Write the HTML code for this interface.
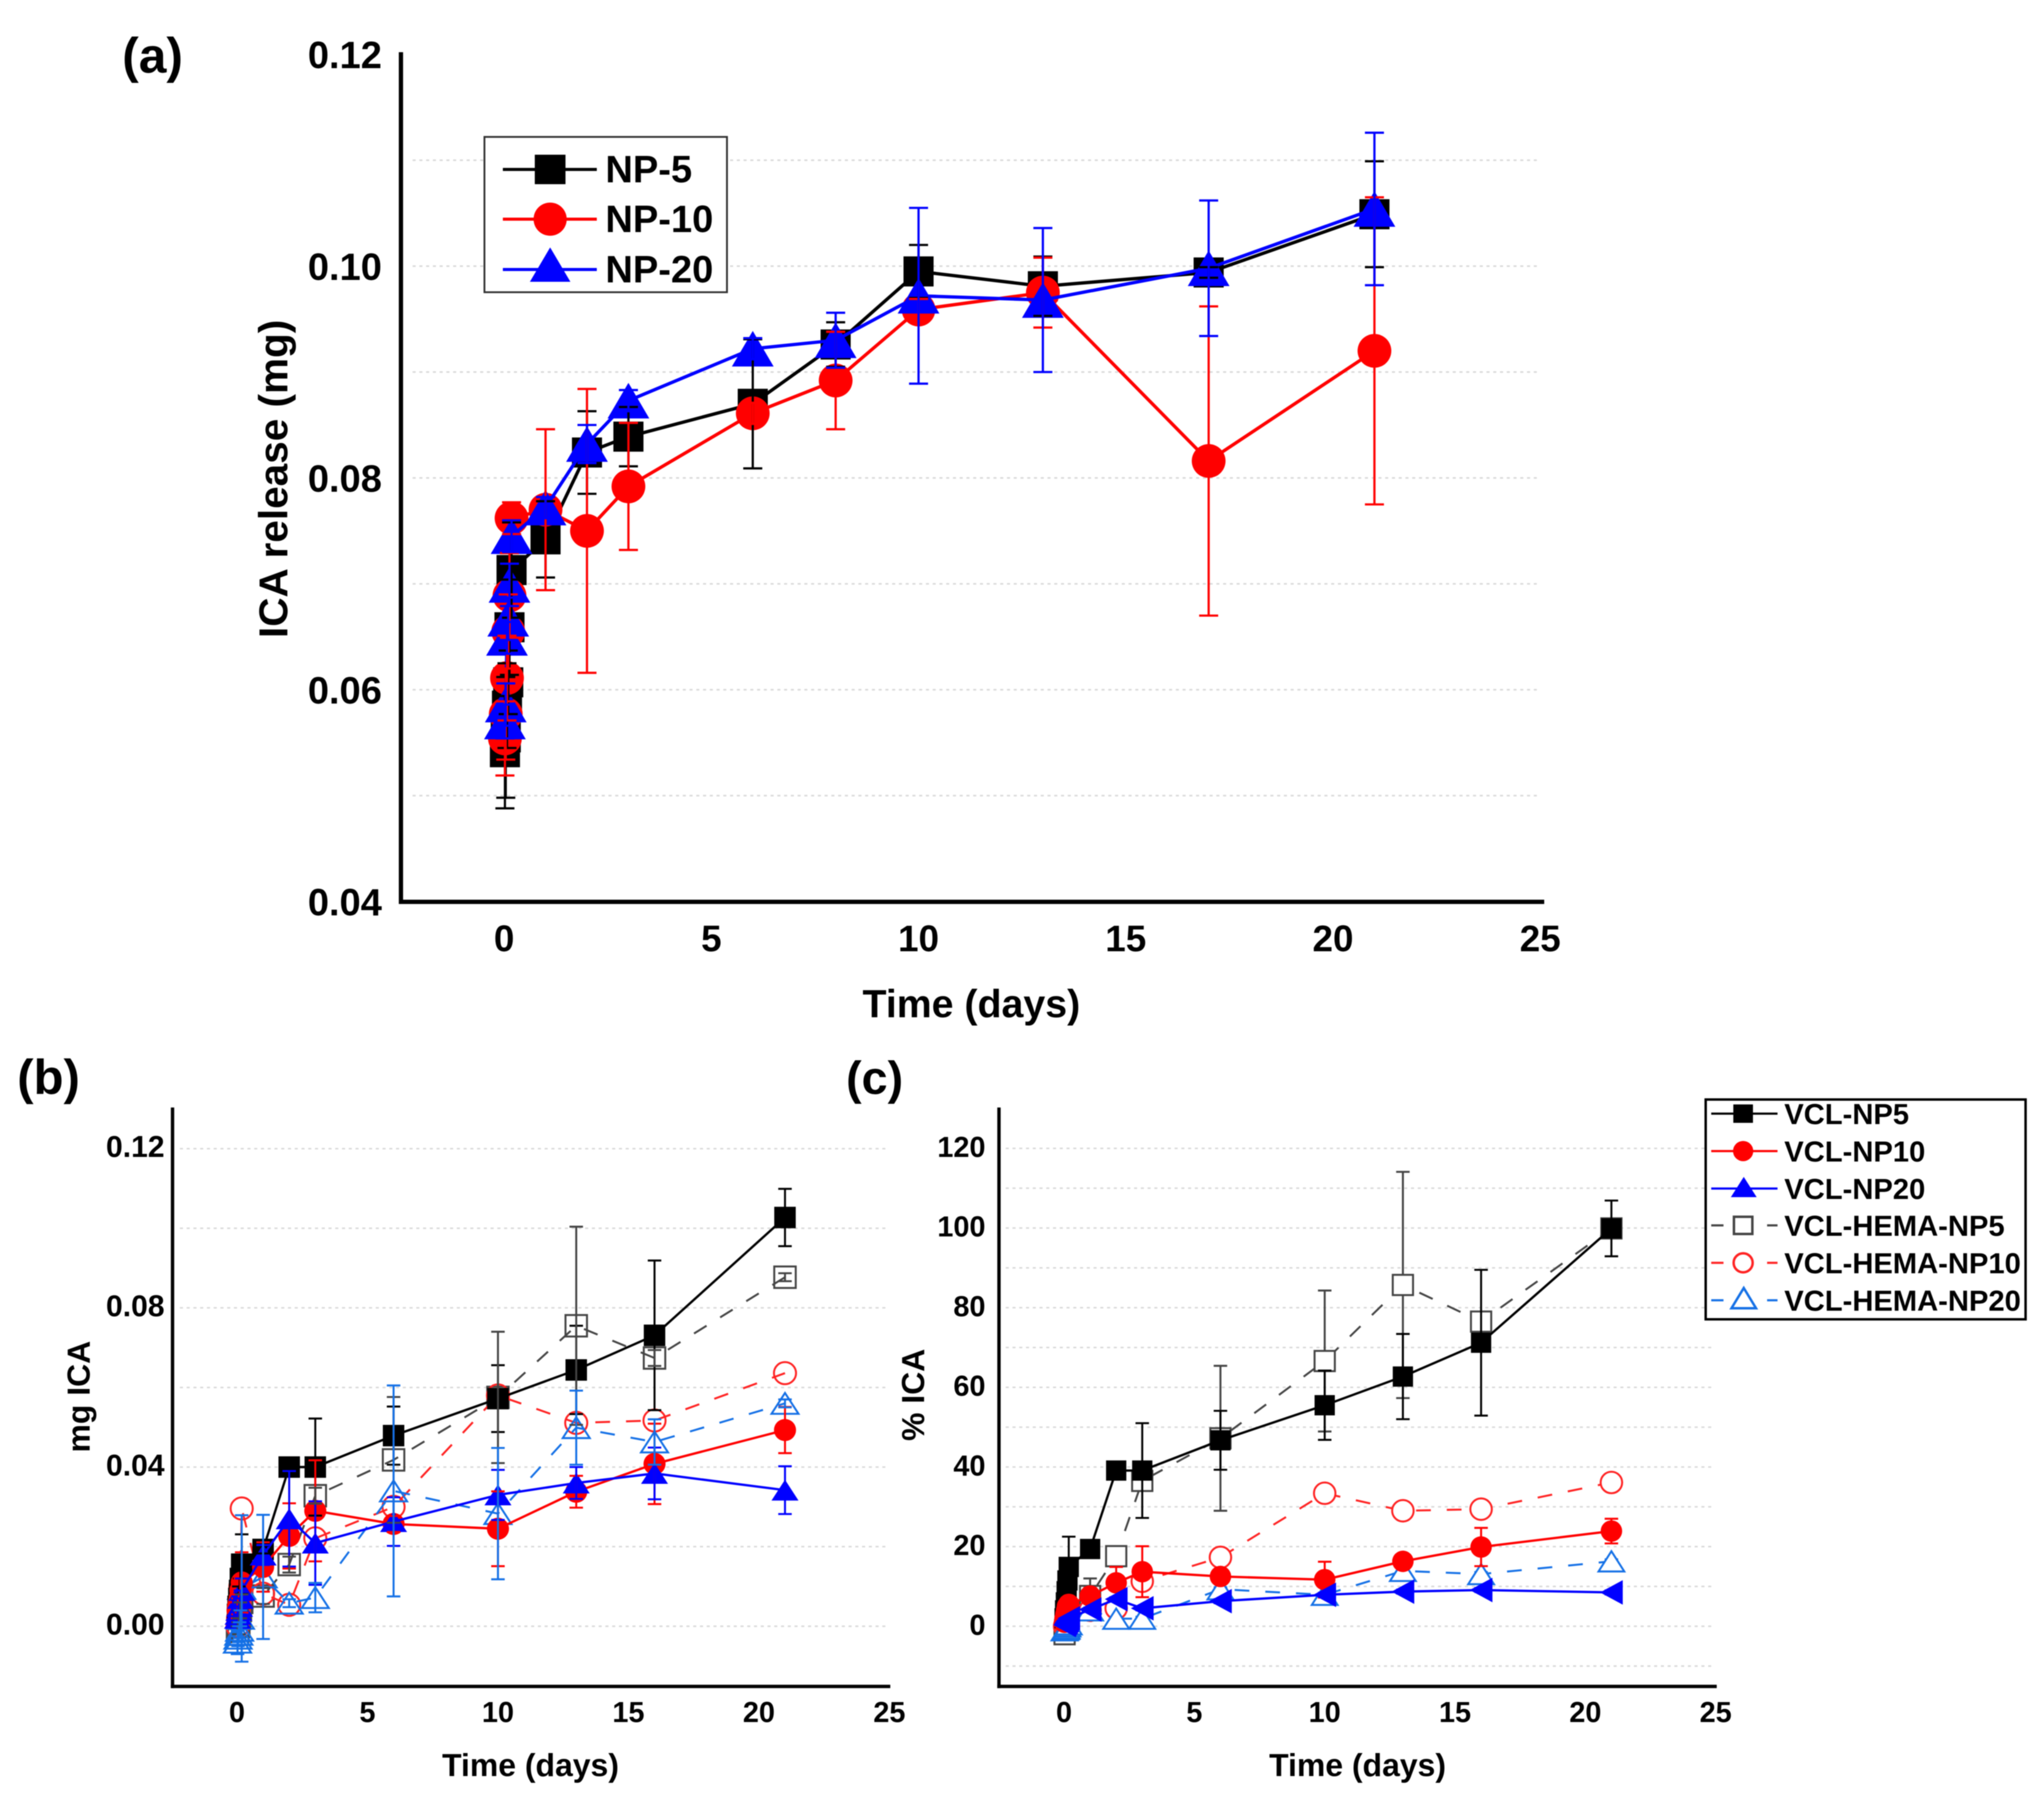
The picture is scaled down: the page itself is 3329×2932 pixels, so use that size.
<!DOCTYPE html>
<html lang="en">
<head>
<meta charset="utf-8">
<title>ICA release charts</title>
<style>
html,body{margin:0;padding:0;background:#fff}
svg{display:block;filter:blur(0.8px)}
text{font-family:"Liberation Sans",Arial,sans-serif;font-weight:bold;fill:#000}
</style>
</head>
<body>
<svg id="figure" xmlns="http://www.w3.org/2000/svg" width="3329" height="2932" viewBox="0 0 3329 2932">
<rect x="0" y="0" width="3329" height="2932" fill="#fff"/>
<g id="panel-a"></g>
<g id="panel-b"></g>
<g id="panel-c"></g>

<text x="199" y="118" font-size="81">(a)</text>
<text x="28" y="1782" font-size="80">(b)</text>
<text x="1378" y="1782" font-size="76">(c)</text>

<text x="1582" y="1657" font-size="64" text-anchor="middle">Time (days)</text>
<text transform="translate(468,780) rotate(-90)" font-size="66" text-anchor="middle">ICA release (mg)</text>
<text x="864" y="2893" font-size="52" text-anchor="middle">Time (days)</text>
<text transform="translate(146,2275) rotate(-90)" font-size="52" text-anchor="middle">mg ICA</text>
<text x="2211" y="2893" font-size="52" text-anchor="middle">Time (days)</text>
<text transform="translate(1505,2272) rotate(-90)" font-size="52" text-anchor="middle">% ICA</text>

<g id="legend-a">
  <rect x="789" y="223" width="395" height="253" fill="#fff" stroke="#333" stroke-width="3"/>
  <g>
    <line x1="819" y1="276" x2="972" y2="276" stroke="#000" stroke-width="5"/>
    <rect x="871" y="252" width="50" height="48" fill="#000"/>
    <text x="986" y="297" font-size="62">NP-5</text>
  </g>
  <g>
    <line x1="819" y1="357" x2="972" y2="357" stroke="#f00" stroke-width="5"/>
    <circle cx="896" cy="357" r="27" fill="#f00"/>
    <text x="986" y="378" font-size="62">NP-10</text>
  </g>
  <g>
    <line x1="819" y1="439" x2="972" y2="439" stroke="#00f" stroke-width="5"/>
    <polygon points="896,403 929,459 863,459" fill="#00f"/>
    <text x="986" y="460" font-size="62">NP-20</text>
  </g>
</g>

<g id="legend-bc">
  <rect x="2778" y="1791" width="521" height="358" fill="#fff" stroke="#000" stroke-width="4"/>
  <g>
    <line x1="2787" y1="1814" x2="2895" y2="1814" stroke="#000" stroke-width="3.5"/>
    <rect x="2823" y="1799" width="32" height="30" fill="#000"/>
    <text x="2906" y="1831" font-size="47.5">VCL-NP5</text>
  </g>
  <g>
    <line x1="2787" y1="1875" x2="2895" y2="1875" stroke="#f00" stroke-width="3.5"/>
    <circle cx="2839" cy="1875" r="16.5" fill="#f00"/>
    <text x="2906" y="1892" font-size="47.5">VCL-NP10</text>
  </g>
  <g>
    <line x1="2787" y1="1936" x2="2895" y2="1936" stroke="#00f" stroke-width="3.5"/>
    <polygon points="2840,1917 2861,1950 2819,1950" fill="#00f"/>
    <text x="2906" y="1953" font-size="47.5">VCL-NP20</text>
  </g>
  <g>
    <line x1="2787" y1="1996" x2="2807" y2="1996" stroke="#444" stroke-width="3.5"/>
    <line x1="2878" y1="1996" x2="2895" y2="1996" stroke="#444" stroke-width="3.5"/>
    <rect x="2824" y="1982" width="30" height="28" fill="#fff" stroke="#444" stroke-width="4"/>
    <text x="2906" y="2013" font-size="47.5">VCL-HEMA-NP5</text>
  </g>
  <g>
    <line x1="2787" y1="2057" x2="2807" y2="2057" stroke="#f22" stroke-width="3.5"/>
    <line x1="2878" y1="2057" x2="2895" y2="2057" stroke="#f22" stroke-width="3.5"/>
    <circle cx="2839" cy="2057" r="15.5" fill="#fff" stroke="#f22" stroke-width="4"/>
    <text x="2906" y="2074" font-size="47.5">VCL-HEMA-NP10</text>
  </g>
  <g>
    <line x1="2787" y1="2118" x2="2807" y2="2118" stroke="#1470e6" stroke-width="3.5"/>
    <line x1="2878" y1="2118" x2="2895" y2="2118" stroke="#1470e6" stroke-width="3.5"/>
    <polygon points="2840,2098 2860,2131 2820,2131" fill="#fff" stroke="#1470e6" stroke-width="4"/>
    <text x="2906" y="2135" font-size="47.5">VCL-HEMA-NP20</text>
  </g>
</g>
</svg>

<script>
/* ---------- shared tick data ---------- */
var xTickValues = [0, 5, 10, 15, 20, 25];

/* ---------- panel (a) data ---------- */
var aTimes = [0.02, 0.04, 0.07, 0.1, 0.13, 0.18, 1, 2, 3, 6, 8, 10, 13, 17, 21];
var aNP5 = [0.0541, 0.0555, 0.0585, 0.0607, 0.0659, 0.0713, 0.0742, 0.0824, 0.0839, 0.0870, 0.0926, 0.0995, 0.0981, 0.0994, 0.1049];
var aNP10 = [0.0554, 0.0577, 0.0611, 0.0655, 0.0689, 0.0762, 0.0770, 0.0750, 0.0792, 0.0861, 0.0892, 0.0959, 0.0975, 0.0816, 0.0920];
var aNP20 = [0.0570, 0.0586, 0.0649, 0.0667, 0.0699, 0.0745, 0.0772, 0.0832, 0.0873, 0.0922, 0.0930, 0.0972, 0.0968, 0.0998, 0.1054];
var aNP5Err = [0.0053, 0.0057, 0.0040, 0.0030, 0.0045, 0.0045, 0.0036, 0.0039, 0.0028, 0.0061, 0.0021, 0.0025, 0.0028, 0.0005, 0.0050];
var aNP10Err = [0.0035, 0.0043, 0.0040, 0.0035, 0.0040, 0.0015, 0.0076, 0.0134, 0.0060, 0.0010, 0.0046, 0.0010, 0.0033, 0.0146, 0.0145];
var aNP20Err = [0.0016, 0.0020, 0.0015, 0.0020, 0.0020, 0.0015, 0.0010, 0.0018, 0.0010, 0.0010, 0.0026, 0.0083, 0.0068, 0.0064, 0.0072];
var aYTickValues = ["0.04", "0.06", "0.08", "0.10", "0.12"];
var aGridValues = [0.05, 0.06, 0.07, 0.08, 0.09, 0.10, 0.11];

/* ---------- panels (b) and (c) shared time points ---------- */
var bcTimes = [0.02, 0.04, 0.07, 0.1, 0.13, 0.18, 1, 2, 3, 6, 10, 13, 16, 21];

/* ---------- panel (b) data ---------- */
var bNP5 = [0.003, 0.005, 0.007, 0.009, 0.012, 0.0156, 0.0193, 0.040, 0.040, 0.0479, 0.0572, 0.0644, 0.0731, 0.1027];
var bNP10 = [0.004, 0.005, 0.006, 0.007, 0.009, 0.011, 0.0149, 0.0227, 0.029, 0.0257, 0.0245, 0.0338, 0.0408, 0.0493];
var bNP20 = [0.002, 0.003, 0.004, 0.005, 0.007, 0.009, 0.0179, 0.027, 0.0209, 0.0263, 0.033, 0.036, 0.0384, 0.0342];
var bHemaNP5 = [-0.002, -0.001, 0.000, 0.002, 0.004, 0.006, 0.0076, 0.0155, 0.0328, 0.0418, 0.0575, 0.0755, 0.0674, 0.0877];
var bHemaNP10 = [0.000, 0.002, 0.004, 0.006, 0.010, 0.0296, 0.0082, 0.0054, 0.0221, 0.0300, 0.0580, 0.0511, 0.0517, 0.0636];
var bHemaNP20 = [-0.004, -0.003, -0.002, -0.001, 0.002, 0.0095, 0.0124, 0.0058, 0.0072, 0.0340, 0.0283, 0.0499, 0.0463, 0.0560];
var bNP5Err = [0.003, 0.002, 0.003, 0.003, 0.003, 0.0075, 0.001, 0.001, 0.0122, 0.0073, 0.0084, 0.0111, 0.0188, 0.0072];
var bNP10Err = [0.002, 0.002, 0.002, 0.002, 0.003, 0.0076, 0.0062, 0.0082, 0.0127, 0.002, 0.0094, 0.004, 0.0101, 0.0058];
var bNP20Err = [0.002, 0.002, 0.002, 0.002, 0.002, 0.003, 0.0025, 0.012, 0.0105, 0.0061, 0.0063, 0.004, 0.0065, 0.006];
var bHemaNP5Err = [0.002, 0.002, 0.002, 0.002, 0.002, 0.002, 0.002, 0.002, 0.002, 0.0158, 0.0165, 0.0249, 0.002, 0.001];
var bHemaNP10Err = [0, 0, 0, 0, 0, 0, 0, 0, 0, 0, 0, 0, 0, 0];
var bHemaNP20Err = [0.003, 0.002, 0.002, 0.002, 0.002, 0.0184, 0.0156, 0.001, 0.0037, 0.0265, 0.0165, 0.0093, 0.0057, 0.001];
var bYTickValues = ["0.00", "0.04", "0.08", "0.12"];
var bGridValues = [0, 0.02, 0.04, 0.06, 0.08, 0.10, 0.12];

/* ---------- panel (c) data ---------- */
var cNP5 = [2, 4, 6, 8.8, 11.5, 14.9, 19.4, 39.1, 39.1, 46.7, 55.5, 62.7, 71.2, 99.9];
var cNP10 = [1, 2, 3, 4, 5, 5.5, 7.6, 10.9, 13.7, 12.5, 11.7, 16.3, 19.9, 23.9];
var cNP20 = [0.3, 0.6, 0.9, 1.2, 1.5, 2, 4.2, 6.8, 4.5, 6.3, 7.9, 8.7, 9.1, 8.5];
var cHemaNP5 = [-2, -1, 0, 1, 2, 3, 7.6, 17.6, 36.5, 47.2, 66.6, 85.7, 76.5, 99.9];
var cHemaNP10 = [0, 0.5, 1.5, 2, 3, 4, 4, 4.5, 11.3, 17.3, 33.4, 29, 29.4, 36.1];
var cHemaNP20 = [-1, -0.8, -0.7, -0.5, 0, 0.5, 4, 1.9, 1.9, 9.3, 7.9, 13.9, 13.1, 16.3];
var cNP5Err = [1, 1, 1.5, 2, 3, 7.6, 0.5, 1, 11.9, 7.4, 8.7, 10.7, 18.3, 7];
var cNP10Err = [1, 1, 1, 1, 1, 3.7, 2, 4, 6.4, 1, 4.5, 1, 4.8, 3.1];
var cNP20Err = [0.5, 0.5, 0.5, 0.5, 0.5, 0.5, 0.5, 0.5, 0.5, 0.5, 0.5, 0.5, 0.5, 0.5];
var cHemaNP5Err = [2, 2, 2, 2, 2, 2, 4.4, 1, 1.5, 18.2, 17.7, 28.4, 1.5, 1.5];
var cHemaNP10Err = [0.5, 0.5, 0.5, 0.5, 0.5, 0.5, 0.5, 0.5, 0.5, 0.5, 0.5, 0.5, 0.5, 0.5];
var cHemaNP20Err = [0.5, 0.5, 0.5, 0.5, 0.5, 0.5, 0.5, 0.5, 0.5, 0.5, 0.5, 0.5, 0.5, 0.5];
var cYTickValues = ["0", "20", "40", "60", "80", "100", "120"];
var cGridValues = [-10, 0, 10, 20, 30, 40, 50, 60, 70, 80, 90, 100, 110, 120];

/* ---------- drawing helpers ---------- */
var NS = "http://www.w3.org/2000/svg";

function make(parent, tag, attrs) {
  var el = document.createElementNS(NS, tag);
  for (var k in attrs) { el.setAttribute(k, attrs[k]); }
  parent.appendChild(el);
  return el;
}

function drawMarker(g, kind, x, y, size, color, hollow, fill) {
  var el;
  var attrs = hollow ? { fill: fill, stroke: color, "stroke-width": size.stroke } : { fill: color };
  if (kind === "square") {
    attrs.x = x - size.sq / 2; attrs.y = y - size.sq / 2;
    attrs.width = size.sq; attrs.height = size.sq;
    el = make(g, "rect", attrs);
  } else if (kind === "circle") {
    attrs.cx = x; attrs.cy = y; attrs.r = size.circ / 2;
    el = make(g, "circle", attrs);
  } else if (kind === "left") {
    attrs.points = (x - size.lw / 2) + "," + y + " " + (x + size.lw / 2) + "," + (y - size.lh / 2) + " " + (x + size.lw / 2) + "," + (y + size.lh / 2);
    el = make(g, "polygon", attrs);
  } else {
    attrs.points = x + "," + (y - size.th / 2) + " " + (x + size.tw / 2) + "," + (y + size.th / 2) + " " + (x - size.tw / 2) + "," + (y + size.th / 2);
    el = make(g, "polygon", attrs);
  }
  
  
}

function drawLine(g, s, p) {
  var pts = [];
  for (var i = 0; i < p.times.length; i++) {
    pts.push(p.x(p.times[i]) + "," + p.y(s.values[i]));
  }
  var el = make(g, "polyline", { points: pts.join(" "), fill: "none", stroke: s.color, "stroke-width": s.dash ? p.lineW * 0.85 : p.lineW, "stroke-linejoin": "round" });
  if (s.dash) { el.setAttribute("stroke-dasharray", s.dash); }
  
  
}

function drawMarkers(g, s, p) {
  for (var i = 0; i < p.times.length; i++) {
    drawMarker(g, s.kind, p.x(p.times[i]), p.y(s.values[i]), p.size, s.color, s.hollow, p.hollowFill);
  }
}

function drawErrors(g, s, p) {
  var eg = make(g, "g", { stroke: s.errColor || s.color, "stroke-width": p.errW, fill: "none" });
  
  
  for (var i = 0; i < p.times.length; i++) {
    if (!s.err[i]) { continue; }
    var x = p.x(p.times[i]);
    var top = p.y(s.values[i] + s.err[i]);
    var bot = p.y(s.values[i] - s.err[i]);
    make(eg, "line", { x1: x, x2: x, y1: top, y2: bot });
    make(eg, "line", { x1: x - p.capW / 2, x2: x + p.capW / 2, y1: top, y2: top });
    make(eg, "line", { x1: x - p.capW / 2, x2: x + p.capW / 2, y1: bot, y2: bot });
  }
}

function drawFrame(g, p) {
  var gridG = make(g, "g", { stroke: "#d8d8d8", "stroke-width": 2.4, "stroke-dasharray": "5 6" });
  
  
  p.gridValues.forEach(function (v) {
    make(gridG, "line", { x1: p.gridX0, x2: p.gridX1, y1: p.y(v), y2: p.y(v) });
  });
  var yAxis = make(g, "line", { x1: p.axisX, x2: p.axisX, y1: p.axisTop, y2: p.axisY + p.axisW / 2, stroke: "#000", "stroke-width": p.axisW });
  
  
  var xAxis = make(g, "line", { x1: p.axisX - p.axisW / 2, x2: p.axisEnd, y1: p.axisY, y2: p.axisY, stroke: "#000", "stroke-width": p.axisW });
  
  
  p.yTicks.forEach(function (label) {
    var t = make(g, "text", { x: p.yLabelRight, y: p.y(parseFloat(label)) + p.yLabelShift + p.yFontSize * 0.36, "font-size": p.yFontSize, "text-anchor": "end" });
    t.textContent = label;
    
    
  });
  xTickValues.forEach(function (v) {
    var t = make(g, "text", { x: p.x(v), y: p.xLabelY + p.fontSize * 0.36, "font-size": p.fontSize, "text-anchor": "middle" });
    t.textContent = String(v);
    
    
  });
}

/* ---------- panel (a) ---------- */
(function () {
  var g = document.getElementById("panel-a");
  var p = {
    times: aTimes, gridValues: aGridValues, yTicks: aYTickValues,
    x: function (t) { return 821 + 67.5 * t; },
    y: function (v) { return 1468.5 - (v - 0.04) * 17250; },
    gridX0: 672, gridX1: 2508, axisX: 653, axisTop: 85, axisY: 1469, axisEnd: 2515, axisW: 7,
    yLabelRight: 622, yLabelShift: 0, fontSize: 60, yFontSize: 62, xLabelY: 1528,
    lineW: 5.4, errW: 3.6, capW: 31, hollowFill: "none",
    size: { sq: 49, circ: 55, tw: 68, th: 58, stroke: 4 }
  };
  var series = [
    { values: aNP5, err: aNP5Err, color: "#000", kind: "square" },
    { values: aNP10, err: aNP10Err, color: "#f00", kind: "circle" },
    { values: aNP20, err: aNP20Err, color: "#00f", kind: "tri" }
  ];
  drawFrame(g, p);
  series.forEach(function (s) { drawLine(g, s, p); drawMarkers(g, s, p); });
  series.forEach(function (s) { drawErrors(g, s, p); });
})();

/* ---------- panel (b) ---------- */
(function () {
  var g = document.getElementById("panel-b");
  var p = {
    times: bcTimes, gridValues: bGridValues, yTicks: bYTickValues,
    x: function (t) { return 386 + 42.5 * t; },
    y: function (v) { return 2649 - v * 6483; },
    gridX0: 293, gridX1: 1445, axisX: 281, axisTop: 1804, axisY: 2747, axisEnd: 1450, axisW: 5.5,
    yLabelRight: 268, yLabelShift: -4, fontSize: 47, yFontSize: 49, xLabelY: 2788,
    lineW: 3.8, errW: 3.2, capW: 22, hollowFill: "none",
    size: { sq: 35, circ: 36, tw: 44, th: 34, stroke: 3.2 }
  };
  var hollowSeries = [
    { values: bHemaNP5, err: bHemaNP5Err, color: "#444", kind: "square", hollow: true, dash: "24 26" },
    { values: bHemaNP10, err: bHemaNP10Err, color: "#f22", kind: "circle", hollow: true, dash: "24 26" },
    { values: bHemaNP20, err: bHemaNP20Err, color: "#1470e6", kind: "tri", hollow: true, dash: "24 26" }
  ];
  var solidSeries = [
    { values: bNP5, err: bNP5Err, color: "#000", kind: "square" },
    { values: bNP10, err: bNP10Err, color: "#f00", kind: "circle" },
    { values: bNP20, err: bNP20Err, color: "#00f", kind: "tri" }
  ];
  drawFrame(g, p);
  hollowSeries.forEach(function (s) { drawLine(g, s, p); drawMarkers(g, s, p); });
  solidSeries.forEach(function (s) { drawLine(g, s, p); drawMarkers(g, s, p); });
  solidSeries.forEach(function (s) { drawErrors(g, s, p); });
  hollowSeries.forEach(function (s) { drawErrors(g, s, p); });
})();

/* ---------- panel (c) ---------- */
(function () {
  var g = document.getElementById("panel-c");
  var p = {
    times: bcTimes, gridValues: cGridValues, yTicks: cYTickValues,
    x: function (t) { return 1733 + 42.45 * t; },
    y: function (v) { return 2649 - v * 6.487; },
    gridX0: 1638, gridX1: 2790, axisX: 1627, axisTop: 1804, axisY: 2747, axisEnd: 2796, axisW: 5.5,
    yLabelRight: 1605, yLabelShift: -3, fontSize: 47, yFontSize: 47, xLabelY: 2788,
    lineW: 3.8, errW: 3.2, capW: 22, hollowFill: "#fff",
    size: { sq: 33, circ: 35, tw: 42, th: 33, lw: 37, lh: 40, stroke: 3.2 }
  };
  var hollowSeries = [
    { values: cHemaNP5, err: cHemaNP5Err, color: "#444", kind: "square", hollow: true, dash: "24 26" },
    { values: cHemaNP10, err: cHemaNP10Err, color: "#f22", kind: "circle", hollow: true, dash: "24 26" },
    { values: cHemaNP20, err: cHemaNP20Err, color: "#1470e6", kind: "tri", hollow: true, dash: "24 26" }
  ];
  var solidSeries = [
    { values: cNP5, err: cNP5Err, color: "#000", kind: "square" },
    { values: cNP10, err: cNP10Err, color: "#f00", kind: "circle" },
    { values: cNP20, err: cNP20Err, color: "#00f", kind: "left" }
  ];
  drawFrame(g, p);
  hollowSeries.forEach(function (s) { drawErrors(g, s, p); });
  hollowSeries.forEach(function (s) { drawLine(g, s, p); drawMarkers(g, s, p); });
  solidSeries.forEach(function (s) { drawErrors(g, s, p); });
  solidSeries.forEach(function (s) { drawLine(g, s, p); drawMarkers(g, s, p); });
})();
</script>
</body>
</html>
